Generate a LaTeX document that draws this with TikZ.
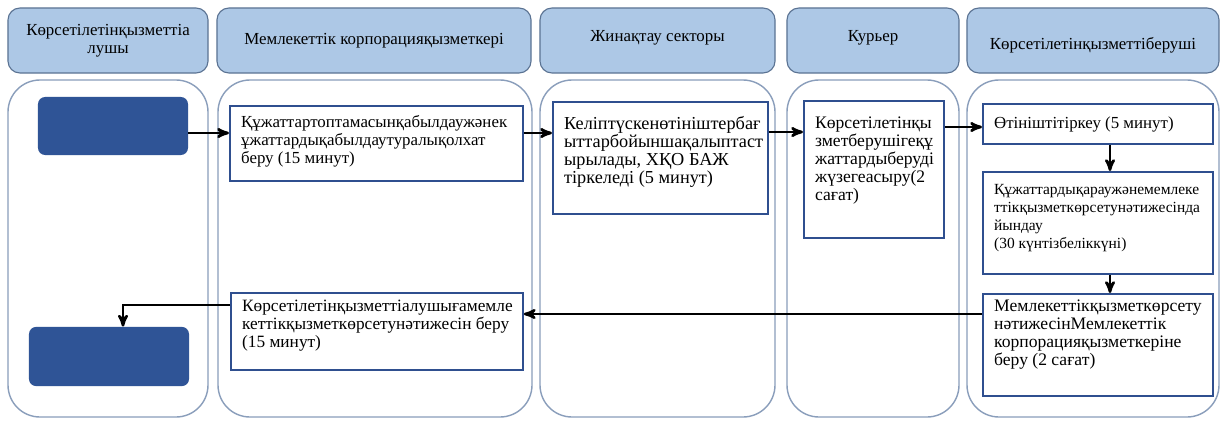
\documentclass[tikz,border=0pt]{standalone}
\usepackage{fontspec}
\setmainfont{Liberation Serif}
\usetikzlibrary{arrows}
\tikzset{>=stealth'}
\definecolor{headfill}{HTML}{ADC8E6}
\definecolor{headline}{HTML}{5B7393}
\definecolor{laneline}{HTML}{8A9EBB}
\definecolor{procline}{HTML}{2F4F8F}
\definecolor{darkfill}{HTML}{2F5496}
\newdimen\pxu \pxu=0.025cm
% text block of a step box: [top space], width, height (px), text
\newcommand{\pbox}[4][0]{\begin{minipage}[c][\dimexpr #3\pxu-8pt\relax][t]{\dimexpr #2\pxu-16pt\relax}\vspace*{#1\pxu}#4\end{minipage}}
\newcommand{\fsz}[1]{\fontsize{#1}{12.8}\selectfont}
\tikzset{
  head/.style={draw=headline, fill=headfill, line width=0.8pt, rounded corners=0.3cm, align=center, font=\fsz{12}},
  lane/.style={draw=laneline, line width=1pt, rounded corners=0.8cm},
  proc/.style={draw=procline, line width=1.3pt, fill=white, inner xsep=8pt, inner ysep=4pt, anchor=north west, font=\fsz{12}},
  dark/.style={fill=darkfill, rounded corners=0.18cm},
  arr/.style={->, black, line width=1.8pt}
}
\begin{document}
\begin{tikzpicture}[x=0.025cm, y=-0.025cm]
\useasboundingbox[fill=white] (0,0) rectangle (1225,423);
\def\ytop {80}   % top of the lanes
\def\ybot {417}  % bottom of the lanes
% headers:
 \node[head, minimum width=5cm, minimum height=1.625cm] (h1) at (108,40.5) {Көрсетілетінқызметтіа\\лушы};
 \node[head, minimum width=7.85cm, minimum height=1.625cm] (h2) at (374,40.5) {Мемлекеттік корпорацияқызметкері};
 \node[head, minimum width=5.875cm, minimum height=1.625cm] (h3) at (657.5,40.5) {\rule[-6.5pt]{0pt}{1pt}Жинақтау секторы};
 \node[head, minimum width=4.3cm, minimum height=1.625cm] (h4) at (873,40.5) {\rule[-6.5pt]{0pt}{1pt}Курьер};
 \node[head, minimum width=6.3cm, minimum height=1.625cm] (h5) at (1093,40.5) {\rule{0pt}{16pt}Көрсетілетінқызметтіберуші};
% lanes:
 \draw[lane] (8,\ytop) rectangle (208,\ybot);
 \draw[lane] (218,\ytop) rectangle (532,\ybot);
 \draw[lane] (540,\ytop) rectangle (775,\ybot);
 \draw[lane] (787,\ytop) rectangle (959,\ybot);
 \draw[lane] (967,\ytop) rectangle (1219,\ybot);
% start and end:
 \node[dark, minimum width=3.75cm, minimum height=1.45cm] (d1) at (113,126) {};
 \node[dark, minimum width=4cm, minimum height=1.48cm] (d2) at (109,356.5) {};
% steps:
 \node[proc] (p1) at (229,105) {\pbox[4]{293}{75}{Құжаттартоптамасынқабылдаужәнек\\ұжаттардықабылдаутуралықолхат\\беру (15 минут)}};
 \node[proc, font=\fsz{13}] (p2) at (552,101) {\pbox[9]{215}{112}{Келіптүскенөтініштербағ\\ыттарбойыншақалыптаст\\ырылады, ХҚО БАЖ\\тіркеледі (5 минут)}};
 \node[proc, font=\fsz{12.5}] (p3) at (803,100) {\pbox[10]{140}{137}{Көрсетілетінқы\\зметберушігеқұ\\жаттардыберуді\\жүзегеасыру(2\\сағат)}};
 \node[proc] (p4) at (982,103) {\pbox[7]{230}{40}{Өтініштітіркеу (5 минут)}};
 \node[proc, font=\fsz{11}] (p5) at (982,171) {\pbox[7]{230}{102}{Құжаттардықараужәнемемлеке\\ттікқызметкөрсетунәтижесінда\\йындау\\(30 күнтізбеліккүні)}};
 \node[proc, font=\fsz{12.5}] (p6) at (982,293) {\pbox{230}{102}{Мемлекеттікқызметкөрсету\\нәтижесінМемлекеттік\\корпорацияқызметкеріне\\беру (2 сағат)}};
 \node[proc, font=\fsz{12.3}] (p7) at (230,292) {\pbox[2]{292}{77}{Көрсетілетінқызметтіалушығамемле\\кеттікқызметкөрсетунәтижесін беру\\(15 минут)}};
% arrows:
 \draw[arr] (d1.east |- 0,133) -- (p1.west |- 0,133);
 \draw[arr] (p1.east |- 0,133) -- (p2.west |- 0,133);
 \draw[arr] (p2.east |- 0,132) -- (p3.west |- 0,132);
 \draw[arr] (p3.east |- 0,127) -- (p4.west |- 0,127);
 \draw[arr] (p4.south -| 1110,0) -- (p5.north -| 1110,0);
 \draw[arr] (p5.south -| 1110,0) -- (p6.north -| 1110,0);
 \draw[arr] (p6.west |- 0,314) -- (p7.east |- 0,314);
 \draw[arr] (p7.west |- 0,305) -| (d2.north -| 123,0);
\end{tikzpicture}
\end{document}
